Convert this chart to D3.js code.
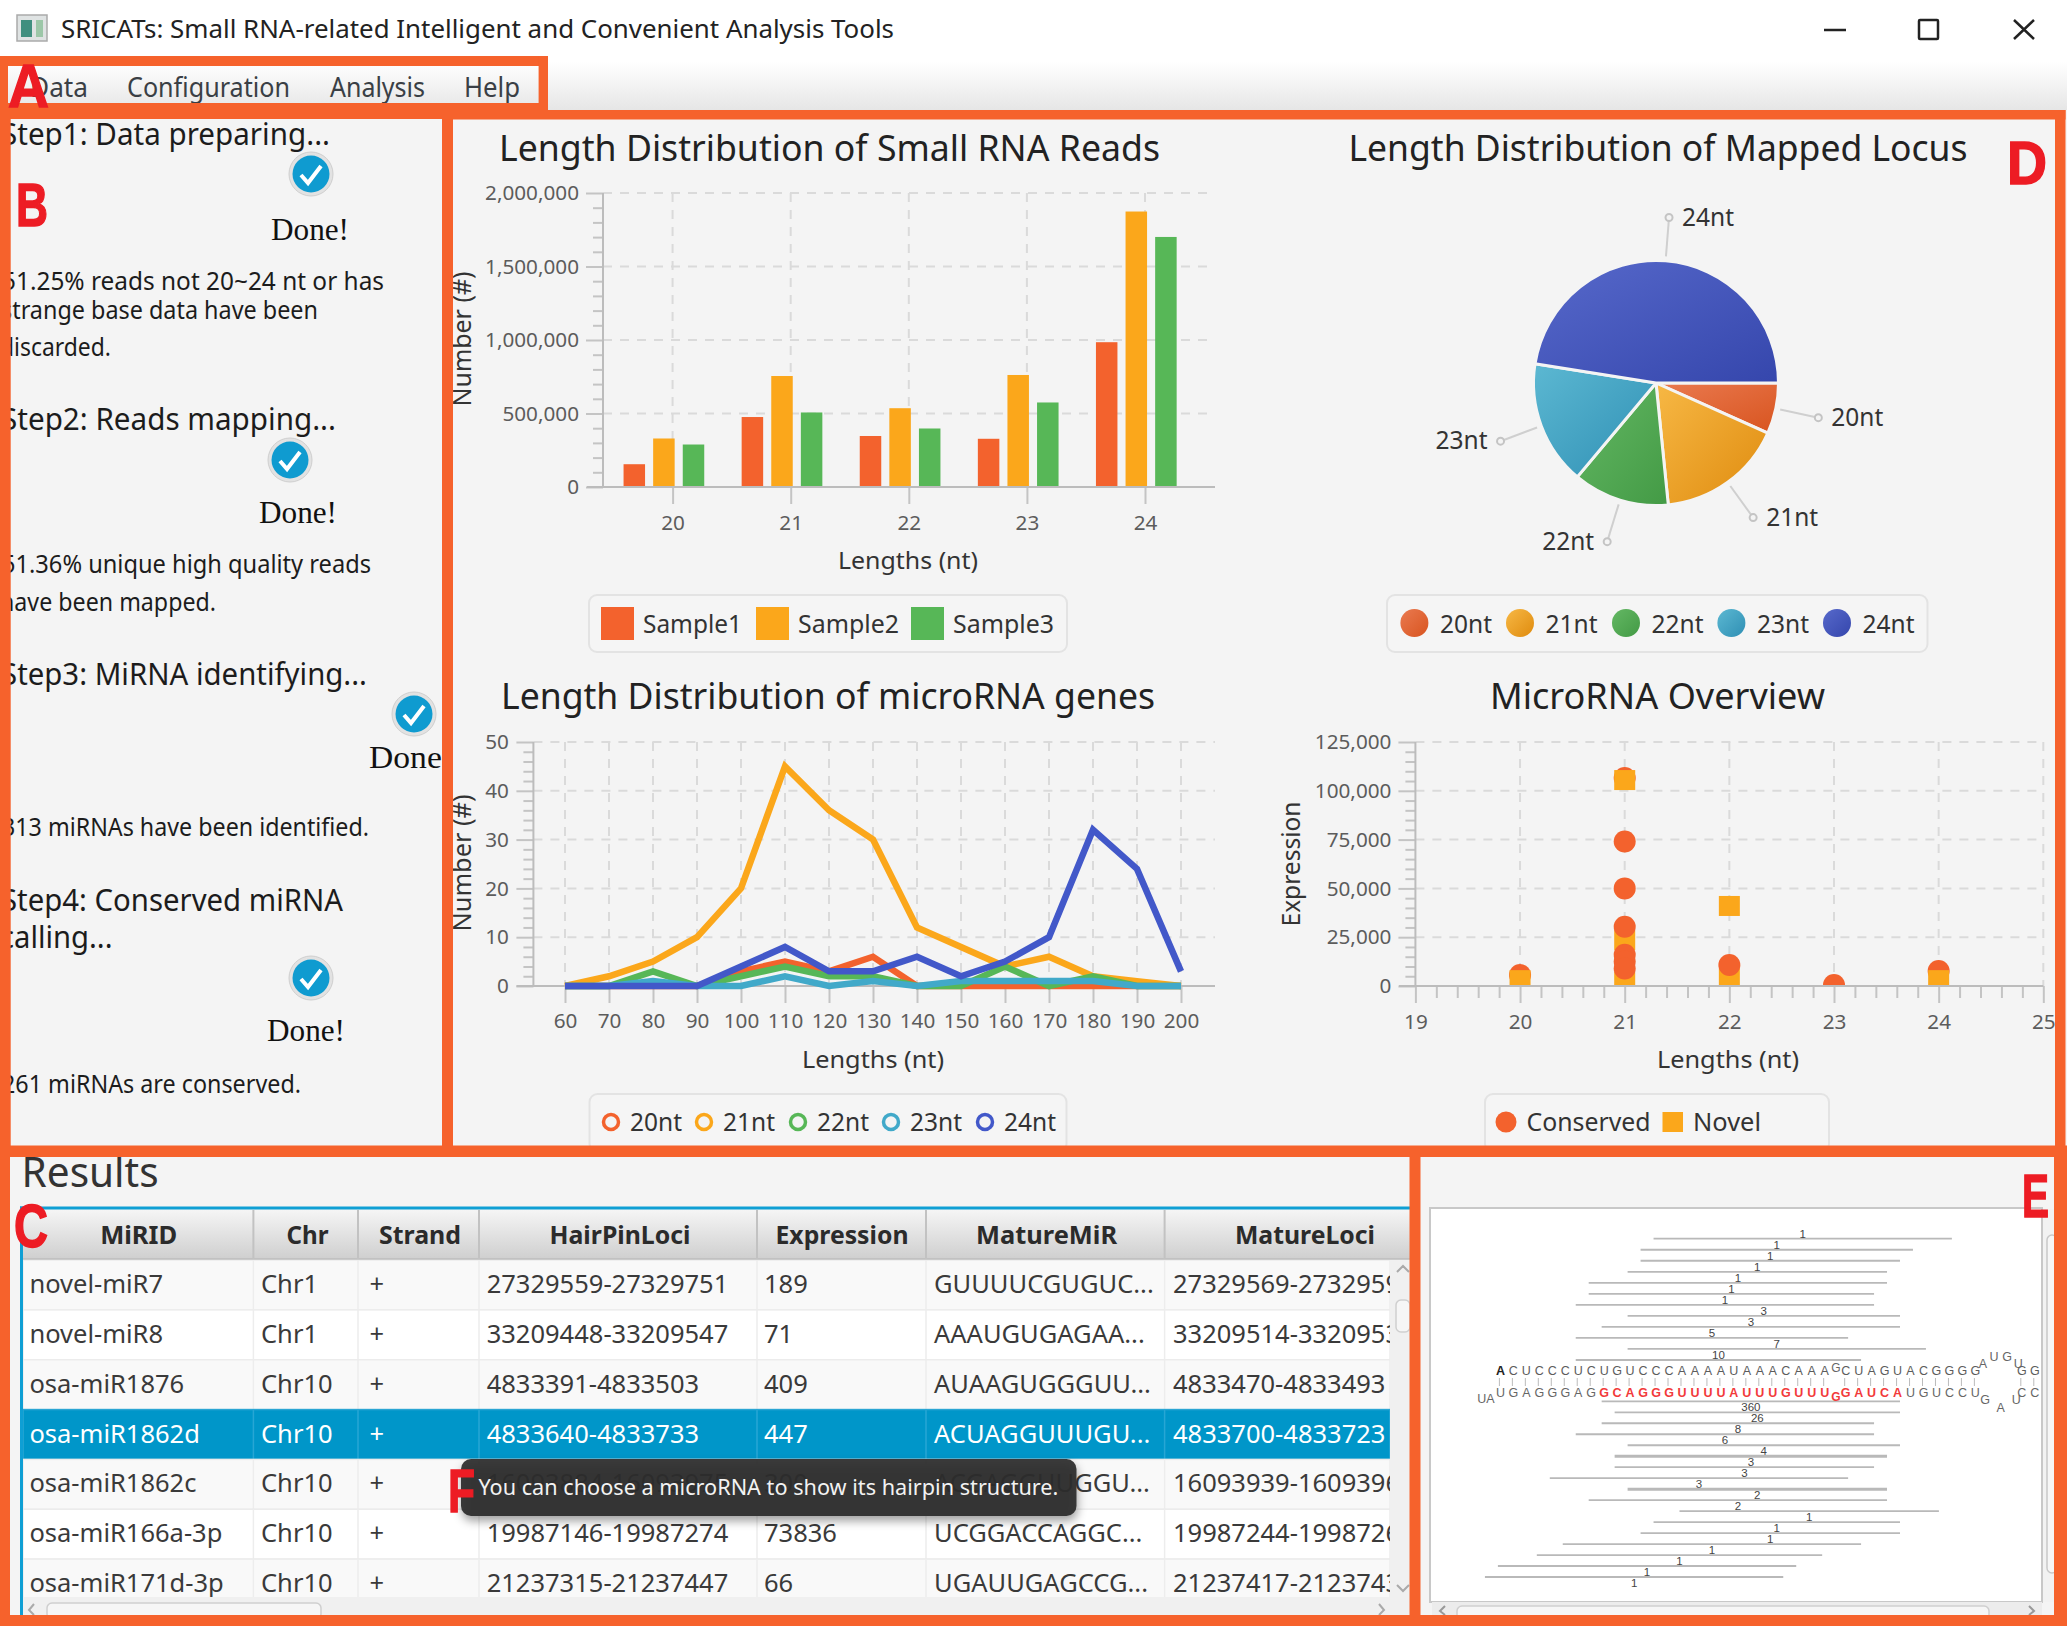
<!DOCTYPE html>
<html>
<head>
    <meta charset="utf-8">
    <title>SRICATs</title>
    <script src="https://d3js.org/d3.v7.min.js"></script>
    <style>
        html, body { margin: 0; padding: 0; background: #f4f4f4; }
        svg { display: block; }
        text { font-family: "Noto Sans", sans-serif; }
    </style>
</head>
<body>
    <svg id="app" width="2067" height="1626"></svg>

    <script>
    // ---- data ----
    const menuItems = ["Data", "Configuration", "Analysis", "Help"];
    const sideTexts = [
        "Step1: Data preparing...", "51.25% reads not 20~24 nt or has", "strange base data have been", "discarded.",
        "Step2: Reads mapping...", "51.36% unique high quality reads", "have been mapped.",
        "Step3: MiRNA identifying...", "313 miRNAs have been identified.",
        "Step4: Conserved miRNA", "calling...", "261 miRNAs are conserved."
    ];

    const readLengths = ["20", "21", "22", "23", "24"];
    const samples = ["Sample1", "Sample2", "Sample3"];
    const sample1 = [155000, 476000, 347000, 328000, 985000];
    const sample2 = [330000, 755000, 536000, 762000, 1874000];
    const sample3 = [289000, 507000, 398000, 575000, 1701000];
    const readTicks = [0, 500000, 1000000, 1500000, 2000000];

    const pieNames = ["20nt", "21nt", "22nt", "23nt", "24nt"];
    const pieValues = [6.7, 16.7, 12.7, 16.4, 47.5];

    const hairpinLengths = [60, 70, 80, 90, 100, 110, 120, 130, 140, 150, 160, 170, 180, 190, 200];
    const genes20 = [0, 0, 0, 0, 3, 5, 3, 6, 0, 0, 0, 0, 0, 0, 0];
    const genes21 = [0, 2, 5, 10, 20, 45, 36, 30, 12, 8, 4, 6, 2, 1, 0];
    const genes22 = [0, 0, 3, 0, 2, 4, 2, 2, 0, 0, 4, 0, 2, 0, 0];
    const genes23 = [0, 0, 1, 0, 0, 2, 0, 1, 0, 1, 1, 1, 1, 0, 0];
    const genes24 = [0, 0, 0, 0, 4, 8, 3, 3, 6, 2, 5, 10, 32, 24, 3];
    const geneTicks = [0, 10, 20, 30, 40, 50];

    // draw order matters here, the picture mixes which kind is on top
    const overviewBack = [[20, 5600, "c"], [21, 106600, "c"], [24, 7700, "c"]];
    const overviewNovel = [[20, 3000, "n"], [21, 105500, "n"], [21, 23500, "n"], [21, 2000, "n"], [22, 41000, "n"], [22, 4000, "n"], [24, 3000, "n"]];
    const overviewFront = [[21, 74000, "c"], [21, 50000, "c"], [21, 30400, "c"], [21, 16000, "c"], [21, 12500, "c"], [21, 9000, "c"], [22, 10800, "c"], [23, 500, "c"]];
    const overviewTicks = [0, 25000, 50000, 75000, 100000, 125000];
    const overviewX = [19, 20, 21, 22, 23, 24, 25];

    const tableHeaders = ["MiRID", "Chr", "Strand", "HairPinLoci", "Expression", "MatureMiR", "MatureLoci"];
    const miRIds = ["novel-miR7", "novel-miR8", "osa-miR1876", "osa-miR1862d", "osa-miR1862c", "osa-miR166a-3p", "osa-miR171d-3p"];
    const chrs = ["Chr1", "Chr1", "Chr10", "Chr10", "Chr10", "Chr10", "Chr10"];
    const strands = ["+", "+", "+", "+", "+", "+", "+"];
    const hairpinLoci = ["27329559-27329751", "33209448-33209547", "4833391-4833503", "4833640-4833733", "16093884-16093975", "19987146-19987274", "21237315-21237447"];
    const expressions = ["189", "71", "409", "447", "300", "73836", "66"];
    const matureMirs = ["GUUUUCGUGUC...", "AAAUGUGAGAA...", "AUAAGUGGGUU...", "ACUAGGUUUGU...", "ACGAGGUUGGU...", "UCGGACCAGGC...", "UGAUUGAGCCG..."];
    const matureLoci = ["27329569-27329592", "33209514-33209535", "4833470-4833493", "4833700-4833723", "16093939-16093960", "19987244-19987264", "21237417-21237437"];
    const tooltipText = "You can choose a microRNA to show its hairpin structure.";

    // hairpin: top and bottom strand, then reads as [first column, last column, count]
    const topStrand = "ACUCCCUCUGUCCCAAAAUAAACAAACUAGUACGGGGGG";
    const bottomStrand = "UGAGGGAGGCAGGGUUUUAUUUGUUUGAUCAUGUCCUCC";
    const loopTop = ["A", "U", "G", "U"];
    const loopBottom = ["G", "A", "U"];
    const readsAbove = [[12, 35, 1], [11, 32, 1], [11, 31, 1], [10, 30, 1], [7, 30, 1], [7, 29, 1], [6, 29, 1], [10, 31, 3], [8, 31, 3], [6, 27, 5], [10, 33, 7], [6, 28, 10]];
    const readsBelow = [[8, 31, 360], [9, 31, 26], [8, 29, 8], [6, 29, 6], [10, 31, 4], [9, 30, 3], [9, 29, 3], [4, 27, 3], [10, 30, 2], [7, 30, 2], [14, 34, 1], [12, 31, 1], [11, 31, 1], [5, 28, 1], [3, 25, 1], [0, 23, 1], [-1, 22, 1]];

    // ---- setup ----
    const width = 2067, height = 1626;
    const svg = d3.select("#app");
    const defs = svg.append("defs");
    const colors = ["#f3622d", "#fba71b", "#57b757", "#41a9c9", "#4258c9"];
    const frameColor = "#f6622c";
    const panelColor = "#f4f4f4";

    const shadeStops = [["#ea7a50", "#d8541f"], ["#f7b845", "#df8b0e"], ["#64b864", "#439a45"], ["#5cb8d2", "#2f8fb4"], ["#5769cb", "#3546ac"]];
    shadeStops.forEach((s, i) => {
        const g = defs.append("linearGradient").attr("id", "shade" + i)
            .attr("x1", 0).attr("y1", 0).attr("x2", 1).attr("y2", 1);
        g.append("stop").attr("offset", "0%").attr("stop-color", s[0]);
        g.append("stop").attr("offset", "100%").attr("stop-color", s[1]);
    });
    const headGrad = defs.append("linearGradient").attr("id", "headGrad").attr("x1", 0).attr("y1", 0).attr("x2", 0).attr("y2", 1);
    headGrad.append("stop").attr("offset", "0%").attr("stop-color", "#f5f5f5");
    headGrad.append("stop").attr("offset", "100%").attr("stop-color", "#cfcfcf");
    const menuGrad = defs.append("linearGradient").attr("id", "menuGrad").attr("x1", 0).attr("y1", 0).attr("x2", 0).attr("y2", 1);
    menuGrad.append("stop").attr("offset", "0%").attr("stop-color", "#ffffff");
    menuGrad.append("stop").attr("offset", "100%").attr("stop-color", "#e6e6e6");
    const shadow = defs.append("filter").attr("id", "tipShadow").attr("x", "-10%").attr("y", "-30%").attr("width", "120%").attr("height", "170%");
    shadow.append("feDropShadow").attr("dx", 1).attr("dy", 5).attr("stdDeviation", 5).attr("flood-color", "#000").attr("flood-opacity", 0.4);

    // text helper, w squeezes the string to the width measured in the picture
    function label(parent, str, x, y, size, o) {
        o = o || {};
        const t = parent.append("text").attr("x", x).attr("y", y).text(str)
            .attr("font-size", size)
            .attr("fill", o.fill || "#333")
            .attr("text-anchor", o.anchor || "start");
        if (o.family) t.style("font-family", o.family);
        if (o.weight) t.attr("font-weight", o.weight);
        if (o.w) t.attr("textLength", o.w).attr("lengthAdjust", "spacingAndGlyphs");
        return t;
    }

    function clip(id, x, y, w, h) {
        defs.append("clipPath").attr("id", id).append("rect").attr("x", x).attr("y", y).attr("width", w).attr("height", h);
    }

    svg.append("rect").attr("width", width).attr("height", height).attr("fill", panelColor);

    // ---- window title and menu ----
    svg.append("rect").attr("width", width).attr("height", 62).attr("fill", "#fff");
    svg.append("rect").attr("x", 17).attr("y", 15).attr("width", 30).attr("height", 26).attr("fill", "#dfe3e3").attr("stroke", "#aaa").attr("stroke-width", 1.5);
    svg.append("rect").attr("x", 21).attr("y", 20).attr("width", 11).attr("height", 17).attr("fill", "#3f8f7f");
    svg.append("rect").attr("x", 36).attr("y", 20).attr("width", 7).attr("height", 17).attr("fill", "#9cc7a8");
    label(svg, "SRICATs: Small RNA-related Intelligent and Convenient Analysis Tools", 61, 38, 26, { fill: "#222", w: 833 });

    svg.append("line").attr("x1", 1824).attr("x2", 1846).attr("y1", 30).attr("y2", 30).attr("stroke", "#222").attr("stroke-width", 2.5);
    svg.append("rect").attr("x", 1919).attr("y", 20).attr("width", 19).attr("height", 19).attr("rx", 1).attr("fill", "none").attr("stroke", "#222").attr("stroke-width", 2.5);
    svg.append("path").attr("d", "M2014,20L2034,39M2034,20L2014,39").attr("stroke", "#222").attr("stroke-width", 2.5);

    svg.append("rect").attr("y", 62).attr("width", width).attr("height", 48).attr("fill", "url(#menuGrad)");
    const menuX = [[30, 58], [127, 163], [330, 95], [464, 56]];
    menuItems.forEach((m, i) => label(svg, m, menuX[i][0], 97, 27, { fill: "#3a3f45", w: menuX[i][1] }));

    // ---- left panel ----
    const side = svg.append("g");
    const sideLayout = [
        [1, 145, 329, 31], [2, 290, 382, 25.5], [1, 319, 317, 25.5], [0, 356, 111, 25.5],
        [1, 430, 335, 31], [2, 573, 369, 25.5], [0, 611, 216, 25.5],
        [1, 685, 366, 31], [2, 836, 367, 25.5],
        [1, 911, 342, 31], [0, 948, 112.5, 31], [2, 1093, 299, 25.5]
    ];
    sideTexts.forEach((s, i) => {
        const l = sideLayout[i];
        label(side, s, l[0], l[1], l[3], { fill: "#1c1c1c", w: l[2] });
    });

    const checks = [[311, 174], [290, 460], [414, 714], [311, 978]];
    const dones = [[271, 240, 78], [259, 523, 78], [369, 768, 84], [267, 1041, 78]];
    checks.forEach(c => {
        const g = side.append("g").attr("transform", `translate(${c[0]},${c[1]})`);
        g.append("circle").attr("r", 22).attr("fill", "#e2e2e2").attr("stroke", "#cfcfcf");
        g.append("circle").attr("r", 18.5).attr("fill", "#0f9bd0");
        g.append("path").attr("d", "M-10,1L-3,9L10,-8").attr("fill", "none").attr("stroke", "#fff").attr("stroke-width", 4);
    });
    dones.forEach(d => label(side, "Done!", d[0], d[1], 31, { fill: "#111", family: "'Liberation Serif', serif", w: d[2] }));

    // ---- shared axis drawing ----
    function styleAxis(a, size) {
        a.select(".domain").remove();
        a.selectAll("line").attr("stroke", "#c4c4c4").attr("stroke-width", 2);
        a.selectAll("text").attr("fill", "#5c5c5c").attr("font-size", size).style("font-family", '"Noto Sans", sans-serif');
    }

    function drawPlotFrame(g, y, yTicks, minorTicks, left, right, fmt, pad) {
        g.append("g").selectAll("line").data(yTicks.slice(1)).join("line")
            .attr("x1", left).attr("x2", right).attr("y1", d => y(d)).attr("y2", d => y(d))
            .attr("stroke", "#dadada").attr("stroke-width", 2).attr("stroke-dasharray", "9,8");
        g.append("g").attr("transform", `translate(${left},0)`)
            .call(d3.axisLeft(y).tickValues(minorTicks).tickSize(10).tickFormat(""))
            .call(styleAxis, 20.7);
        g.append("g").attr("transform", `translate(${left},0)`)
            .call(d3.axisLeft(y).tickValues(yTicks).tickSize(17).tickPadding(pad).tickFormat(fmt))
            .call(styleAxis, 20.7);
        g.append("line").attr("x1", left).attr("x2", left).attr("y1", y(yTicks[yTicks.length - 1])).attr("y2", y(0))
            .attr("stroke", "#bcbcbc").attr("stroke-width", 2);
    }

    function verticalGrid(g, positions, y0, y1) {
        g.append("g").selectAll("line").data(positions).join("line")
            .attr("x1", d => d).attr("x2", d => d).attr("y1", y0).attr("y2", y1)
            .attr("stroke", "#dadada").attr("stroke-width", 2).attr("stroke-dasharray", "9,8");
    }

    function legendBox(g, x0, x1, y0, y1) {
        g.append("rect").attr("x", x0).attr("y", y0).attr("width", x1 - x0).attr("height", y1 - y0)
            .attr("rx", 8).attr("fill", "#f5f5f5").attr("stroke", "#e3e3e3").attr("stroke-width", 2);
    }

    function yTitle(g, str, x, y, w) {
        label(g, str, 0, 0, 25, { anchor: "middle", fill: "#333", w: w })
            .attr("transform", `translate(${x},${y}) rotate(-90)`);
    }

    const commaFmt = d3.format(",");

    // ---- bar chart ----
    const bar = svg.append("g");
    label(bar, "Length Distribution of Small RNA Reads", 499, 161, 37, { fill: "#222", w: 661 });
    const barY = d3.scaleLinear().domain([0, 2000000]).range([487, 193]);
    const barX = d3.scalePoint().domain(readLengths).range([672.6, 1145]);
    // the groups sit a little left of their ticks in the picture
    const barSub = d3.scaleBand().domain(samples).range([-53.1, 35.7]);
    verticalGrid(bar, readLengths.map(d => barX(d)), 193, 487);
    drawPlotFrame(bar, barY, readTicks, d3.range(0, 2000001, 100000).filter(d => d % 500000), 603, 1215, commaFmt, 7);
    [sample1, sample2, sample3].forEach((vals, s) => {
        bar.append("g").selectAll("rect").data(vals).join("rect")
            .attr("x", (d, i) => barX(readLengths[i]) + barSub(samples[s]) + (barSub.bandwidth() - 21.5) / 2)
            .attr("width", 21.5)
            .attr("y", d => barY(d))
            .attr("height", d => barY(0) - barY(d))
            .attr("fill", colors[s]);
    });
    bar.append("g").attr("transform", "translate(0,487)")
        .call(d3.axisBottom(barX).tickSize(17).tickPadding(11))
        .call(styleAxis, 20.7);
    bar.append("line").attr("x1", 587).attr("x2", 1215).attr("y1", 487).attr("y2", 487).attr("stroke", "#bcbcbc").attr("stroke-width", 2);
    yTitle(bar, "Number (#)", 471, 339, 135);
    label(bar, "Lengths (nt)", 838, 568.5, 24, { fill: "#333", w: 140 });
    legendBox(bar, 589, 1067, 595, 652);
    const barLegend = [[601, 643, 99], [756, 798, 101], [911, 953, 101]];
    samples.forEach((s, i) => {
        const l = barLegend[i];
        bar.append("rect").attr("x", l[0]).attr("y", 607).attr("width", 33).attr("height", 33).attr("fill", colors[i]);
        label(bar, s, l[1], 633, 25, { fill: "#333", w: l[2] });
    });

    // ---- pie chart ----
    const pieG = svg.append("g").attr("transform", "translate(1656,383)");
    label(svg, "Length Distribution of Mapped Locus", 1348.5, 161, 37, { fill: "#222", w: 619 });
    const pie = d3.pie().sort(null).startAngle(Math.PI / 2).endAngle(Math.PI / 2 + 2 * Math.PI);
    const arc = d3.arc().innerRadius(0).outerRadius(122.5);
    const arcs = pie(pieValues);
    pieG.selectAll("path").data(arcs).join("path")
        .attr("d", arc)
        .attr("fill", (d, i) => `url(#shade${i})`)
        .attr("stroke", panelColor).attr("stroke-width", 3);
    const polar = (d, r) => {
        const a = (d.startAngle + d.endAngle) / 2;
        return [r * Math.sin(a), -r * Math.cos(a)];
    };
    arcs.forEach((d, i) => {
        const p0 = polar(d, 127), p1 = polar(d, 166);
        pieG.append("line").attr("x1", p0[0]).attr("y1", p0[1]).attr("x2", p1[0]).attr("y2", p1[1]).attr("stroke", "#cfcfcf").attr("stroke-width", 2);
        pieG.append("circle").attr("cx", p1[0]).attr("cy", p1[1]).attr("r", 3.5).attr("fill", panelColor).attr("stroke", "#c4c4c4").attr("stroke-width", 2);
        const left = p1[0] < 0 && i !== 4;
        label(pieG, pieNames[i], p1[0] + (left ? -13 : 13), p1[1] + 8, 25, { anchor: left ? "end" : "start", fill: "#333", w: 52 });
    });
    legendBox(svg, 1387, 1927.5, 595, 652);
    const pieLegendX = [1414.4, 1520, 1626, 1731.4, 1837];
    pieNames.forEach((n, i) => {
        svg.append("circle").attr("cx", pieLegendX[i]).attr("cy", 623).attr("r", 14).attr("fill", `url(#shade${i})`);
        label(svg, n, pieLegendX[i] + 25.6, 633, 25, { fill: "#333", w: 52 });
    });

    // ---- line chart ----
    const lineG = svg.append("g");
    label(lineG, "Length Distribution of microRNA genes", 501, 709, 37, { fill: "#222", w: 654 });
    const lineY = d3.scaleLinear().domain([0, 50]).range([986, 742]);
    const lineX = d3.scaleLinear().domain([60, 200]).range([565, 1181]);
    verticalGrid(lineG, hairpinLengths.map(d => lineX(d)), 742, 986);
    drawPlotFrame(lineG, lineY, geneTicks, d3.range(0, 51, 2).filter(d => d % 10), 533.4, 1215, d3.format("d"), 7.5);
    const lineGen = d3.line().x((d, i) => lineX(hairpinLengths[i])).y(d => lineY(d));
    lineG.append("g").attr("transform", "translate(0,986)")
        .call(d3.axisBottom(lineX).tickValues(hairpinLengths).tickSize(17).tickPadding(10).tickFormat(d3.format("d")))
        .call(styleAxis, 20.7);
    lineG.append("line").attr("x1", 516.5).attr("x2", 1215).attr("y1", 986).attr("y2", 986).attr("stroke", "#bcbcbc").attr("stroke-width", 2);
    [genes20, genes21, genes22, genes23, genes24].forEach((vals, i) => {
        lineG.append("path").datum(vals).attr("d", lineGen)
            .attr("fill", "none").attr("stroke", colors[i]).attr("stroke-width", 6.5);
    });
    yTitle(lineG, "Number (#)", 471, 863, 137);
    label(lineG, "Lengths (nt)", 802, 1068, 24, { fill: "#333", w: 142 });
    legendBox(lineG, 589.5, 1066.5, 1094, 1152);
    const lineLegendX = [611, 704, 798, 891, 985];
    pieNames.forEach((n, i) => {
        lineG.append("circle").attr("cx", lineLegendX[i]).attr("cy", 1122).attr("r", 7.5)
            .attr("fill", panelColor).attr("stroke", colors[i]).attr("stroke-width", 3.5);
        label(lineG, n, lineLegendX[i] + 19, 1131, 25, { fill: "#333", w: 52 });
    });

    // ---- scatter ----
    const scat = svg.append("g");
    label(scat, "MicroRNA Overview", 1490, 709, 37, { fill: "#222", w: 335 });
    const scatY = d3.scaleLinear().domain([0, 125000]).range([986, 742]);
    const scatX = d3.scaleLinear().domain([19, 25]).range([1415.4, 2043.3]);
    verticalGrid(scat, overviewX.slice(1).map(d => scatX(d)), 742, 986);
    drawPlotFrame(scat, scatY, overviewTicks, d3.range(0, 125001, 5000).filter(d => d % 25000), 1415.4, 2043.3, commaFmt, 7);
    clip("scatClip", 1415.4, 742, 628, 244);
    const pts = scat.append("g").attr("clip-path", "url(#scatClip)");
    [overviewBack, overviewNovel, overviewFront].forEach(set => {
        set.forEach(p => {
            if (p[2] === "c") {
                pts.append("circle").attr("cx", scatX(p[0])).attr("cy", scatY(p[1])).attr("r", 11).attr("fill", colors[0]);
            } else {
                pts.append("rect").attr("x", scatX(p[0]) - 10.5).attr("y", scatY(p[1]) - 10).attr("width", 21).attr("height", 20).attr("fill", colors[1]);
            }
        });
    });
    scat.append("g").attr("transform", "translate(0,986)")
        .call(d3.axisBottom(scatX).tickValues(d3.range(19, 25.01, 0.2).filter(d => Math.abs(d - Math.round(d)) > 0.01)).tickSize(12).tickFormat(""))
        .call(styleAxis, 20.7);
    scat.append("g").attr("transform", "translate(0,986)")
        .call(d3.axisBottom(scatX).tickValues(overviewX).tickSize(17).tickPadding(11).tickFormat(d3.format("d")))
        .call(styleAxis, 20.7);
    scat.append("line").attr("x1", 1399).attr("x2", 2043.3).attr("y1", 986).attr("y2", 986).attr("stroke", "#bcbcbc").attr("stroke-width", 2);
    yTitle(scat, "Expression", 1300, 864, 125);
    label(scat, "Lengths (nt)", 1657, 1068, 24, { fill: "#333", w: 142 });
    legendBox(scat, 1485, 1829, 1094, 1152);
    scat.append("circle").attr("cx", 1506).attr("cy", 1122).attr("r", 10.5).attr("fill", colors[0]);
    label(scat, "Conserved", 1526.6, 1131, 25, { fill: "#333", w: 124 });
    scat.append("rect").attr("x", 1662.5).attr("y", 1112).attr("width", 20.5).attr("height", 20).attr("fill", colors[1]);
    label(scat, "Novel", 1693, 1131, 25, { fill: "#333", w: 68 });

    // ---- results table ----
    const tbl = svg.append("g");
    label(tbl, "Results", 21.6, 1187, 41, { fill: "#333", w: 137 });
    tbl.append("rect").attr("x", 20).attr("y", 1206.5).attr("width", 1392).attr("height", 3).attr("fill", "#0f9fd4");
    tbl.append("rect").attr("x", 20).attr("y", 1206.5).attr("width", 3).attr("height", 420).attr("fill", "#0f9fd4");
    const colEdges = [23, 253.4, 358, 479, 757, 926, 1164.6, 1410];
    const headerCenters = [138.7, 307.6, 420, 620, 842, 1046.6, 1305];
    const headerWidths = [77, 42, 82, 141, 133, 141, 140];
    const cellX = [29.4, 261, 369.6, 486.7, 764, 934, 1173];
    tbl.append("rect").attr("x", 23).attr("y", 1210).attr("width", 1387).attr("height", 49).attr("fill", "url(#headGrad)");
    tbl.append("line").attr("x1", 23).attr("x2", 1410).attr("y1", 1259).attr("y2", 1259).attr("stroke", "#bdbdbd").attr("stroke-width", 1.5);
    colEdges.slice(1, 7).forEach(x => {
        tbl.append("line").attr("x1", x).attr("x2", x).attr("y1", 1210).attr("y2", 1259).attr("stroke", "#c2c2c2").attr("stroke-width", 2);
    });
    tableHeaders.forEach((h, i) => label(tbl, h, headerCenters[i], 1244, 25, { anchor: "middle", weight: 700, fill: "#2b2b2b", w: headerWidths[i] }));

    clip("rowsClip", 23, 1260, 1367, 337);
    const rowsG = tbl.append("g").attr("clip-path", "url(#rowsClip)");
    const rowY = d3.scaleLinear().domain([0, 7]).range([1260, 1609]);
    const columns = [miRIds, chrs, strands, hairpinLoci, expressions, matureMirs, matureLoci];
    miRIds.forEach((id, r) => {
        const selected = r === 3;
        rowsG.append("rect").attr("x", 23).attr("y", rowY(r)).attr("width", 1367).attr("height", rowY(1) - rowY(0))
            .attr("fill", selected ? "#0096c9" : (r % 2 ? "#ffffff" : "#f9f9f9"))
            .attr("stroke", selected ? "#2aa6d4" : "#ececec").attr("stroke-width", 1.5);
        colEdges.slice(1, 6 + 1).forEach(x => {
            rowsG.append("line").attr("x1", x).attr("x2", x).attr("y1", rowY(r)).attr("y2", rowY(r + 1))
                .attr("stroke", selected ? "#27a6d4" : "#ededed").attr("stroke-width", 1.5);
        });
        columns.forEach((c, i) => {
            label(rowsG, c[r], cellX[i], rowY(r) + 33, 25.5, { fill: selected ? "#fff" : "#3a3a3a" });
        });
    });

    // table scrollbars
    tbl.append("rect").attr("x", 1390).attr("y", 1260).attr("width", 20).attr("height", 337).attr("fill", "#f0f0f0");
    tbl.append("rect").attr("x", 1396).attr("y", 1300).attr("width", 14).attr("height", 32).attr("rx", 5).attr("fill", "#f6f6f6").attr("stroke", "#cfcfcf").attr("stroke-width", 1.5);
    tbl.append("path").attr("d", "M1397,1272L1403,1266L1409,1272M1397,1585L1403,1591L1409,1585").attr("fill", "none").attr("stroke", "#aaa").attr("stroke-width", 2);
    tbl.append("rect").attr("x", 23).attr("y", 1597).attr("width", 1387).attr("height", 18).attr("fill", "#f0f0f0");
    tbl.append("rect").attr("x", 47).attr("y", 1603).attr("width", 274).attr("height", 16).attr("rx", 5).attr("fill", "#f6f6f6").attr("stroke", "#cfcfcf").attr("stroke-width", 1.5);
    tbl.append("path").attr("d", "M34,1604L29,1610L34,1615M1379,1604L1384,1610L1379,1615").attr("fill", "none").attr("stroke", "#aaa").attr("stroke-width", 2);

    // tooltip
    tbl.append("rect").attr("x", 461).attr("y", 1459).attr("width", 615.5).attr("height", 57).attr("rx", 10)
        .attr("fill", "#2d2d2d").attr("fill-opacity", 0.93).attr("filter", "url(#tipShadow)");
    label(tbl, tooltipText, 478.4, 1495, 22, { fill: "#f2f2f2", w: 580 });

    // ---- hairpin panel ----
    const hp = svg.append("g");
    hp.append("rect").attr("x", 1430).attr("y", 1208).attr("width", 612).attr("height", 394).attr("fill", "#fff").attr("stroke", "#c8c8c8").attr("stroke-width", 2);
    const colX = d3.scaleLinear().domain([0, 41]).range([1500.4, 2032.2]);
    const strandPos = c => colX(c < 26 ? c : c + 0.62);
    const readX = c => colX(c) - 2.5;
    const aboveY = d3.scaleLinear().domain([0, 11]).range([1238.7, 1360]);
    const belowY = d3.scaleLinear().domain([0, 16]).range([1401.3, 1577]);
    function drawReads(reads, yScale, labelDy) {
        reads.forEach((r, i) => {
            const thick = reads === readsBelow && (i === 5 || i === 8);
            hp.append("line").attr("x1", readX(r[0])).attr("x2", readX(r[1])).attr("y1", yScale(i)).attr("y2", yScale(i))
                .attr("stroke", "#b9b9b9").attr("stroke-width", thick ? 3 : 1.8);
            label(hp, r[2], (readX(r[0]) + readX(r[1])) / 2, yScale(i) + labelDy, 11.5, { anchor: "middle", fill: "#444", family: "'Liberation Sans', sans-serif" });
        });
    }
    drawReads(readsAbove, aboveY, -1);
    drawReads(readsBelow, belowY, 10);

    const seqFont = "'Liberation Sans', sans-serif";
    const tipCol = i => i >= 37 ? i + 3.2 - 0.62 : i;
    topStrand.split("").forEach((ch, i) => {
        const c = tipCol(i);
        label(hp, ch, strandPos(c), 1375, 12.5, { anchor: "middle", fill: i === 0 ? "#222" : "#5c5c5c", weight: i === 0 ? 700 : 400, family: seqFont });
        hp.append("line").attr("x1", strandPos(c) - 1).attr("x2", strandPos(c) - 1).attr("y1", 1378).attr("y2", 1386).attr("stroke", "#bbb").attr("stroke-width", 1);
    });
    bottomStrand.split("").forEach((ch, i) => {
        const red = i >= 8 && i <= 30;
        label(hp, ch, strandPos(tipCol(i)), 1397, 12.5, { anchor: "middle", fill: red ? "#f23a3a" : "#666", weight: red ? 700 : 400, family: seqFont });
    });
    // bulge letters sit between columns 25 and 26
    label(hp, "G", colX(25.87), 1372, 12, { anchor: "middle", fill: "#666", family: seqFont });
    label(hp, "G", colX(25.87), 1401, 12, { anchor: "middle", fill: "#f23a3a", weight: 700, family: seqFont });
    label(hp, "UA", 1486, 1403, 12.5, { anchor: "middle", fill: "#666", family: seqFont });
    const loopAngle = d3.scaleLinear().domain([0, 3]).range([-135, -45]);
    loopTop.forEach((ch, i) => {
        const a = loopAngle(i) * Math.PI / 180;
        label(hp, ch, 2000.6 + 25 * Math.cos(a), 1386 + 26 * Math.sin(a), 12.5, { anchor: "middle", fill: "#666", family: seqFont });
    });
    const loopAngle2 = d3.scaleLinear().domain([0, 2]).range([135, 45]);
    loopBottom.forEach((ch, i) => {
        const a = loopAngle2(i) * Math.PI / 180;
        label(hp, ch, 2000.6 + 22 * Math.cos(a), 1386 + 26 * Math.sin(a), 12.5, { anchor: "middle", fill: "#666", family: seqFont });
    });

    // hairpin scrollbars
    hp.append("rect").attr("x", 1432).attr("y", 1602).attr("width", 610).attr("height", 13).attr("fill", "#ececec");
    hp.append("rect").attr("x", 1457).attr("y", 1606).attr("width", 532).attr("height", 14).attr("rx", 5).attr("fill", "#f6f6f6").attr("stroke", "#cfcfcf").attr("stroke-width", 1.5);
    hp.append("path").attr("d", "M1445,1606L1440,1611L1445,1615M2029,1606L2034,1611L2029,1615").attr("fill", "none").attr("stroke", "#999").attr("stroke-width", 2);
    hp.append("rect").attr("x", 2043).attr("y", 1209).attr("width", 11).attr("height", 393).attr("fill", "#f2f2f2");
    hp.append("rect").attr("x", 2047).attr("y", 1235).attr("width", 10).attr("height", 338).attr("rx", 5).attr("fill", "#f6f6f6").attr("stroke", "#c8c8c8").attr("stroke-width", 1.5);

    // ---- orange frames go on top, they cut the text at the panel edges ----
    const frameBands = [
        [0, 56, 548, 66], [0, 56, 8, 119], [538.6, 56, 548, 119], [0, 103, 548, 119],
        [442, 110, 2065.5, 119.5], [0, 119, 10.7, 1157], [442, 119, 453, 1157], [2055, 110, 2065.5, 1157],
        [0, 1145.5, 2067, 1157], [0, 1157, 10, 1626], [1409.5, 1157, 1420.5, 1626], [2054, 1157, 2067, 1626],
        [0, 1615, 2067, 1626]
    ];
    svg.append("g").selectAll("rect").data(frameBands).join("rect")
        .attr("x", d => d[0]).attr("y", d => d[1]).attr("width", d => d[2] - d[0]).attr("height", d => d[3] - d[1])
        .attr("fill", frameColor);

    const letters = [["A", 8, 41, 107], ["B", 16, 32, 226], ["C", 14, 34, 1247], ["D", 2007, 40, 184], ["E", 2022, 27, 1217], ["F", 448, 27, 1512]];
    letters.forEach(l => label(svg, l[0], l[1], l[3], 61, { fill: "#ed1c24", weight: 700, family: "'Liberation Sans', sans-serif", w: l[2] })
        .attr("stroke", "#ed1c24").attr("stroke-width", 1.5));
    </script>
</body>
</html>
